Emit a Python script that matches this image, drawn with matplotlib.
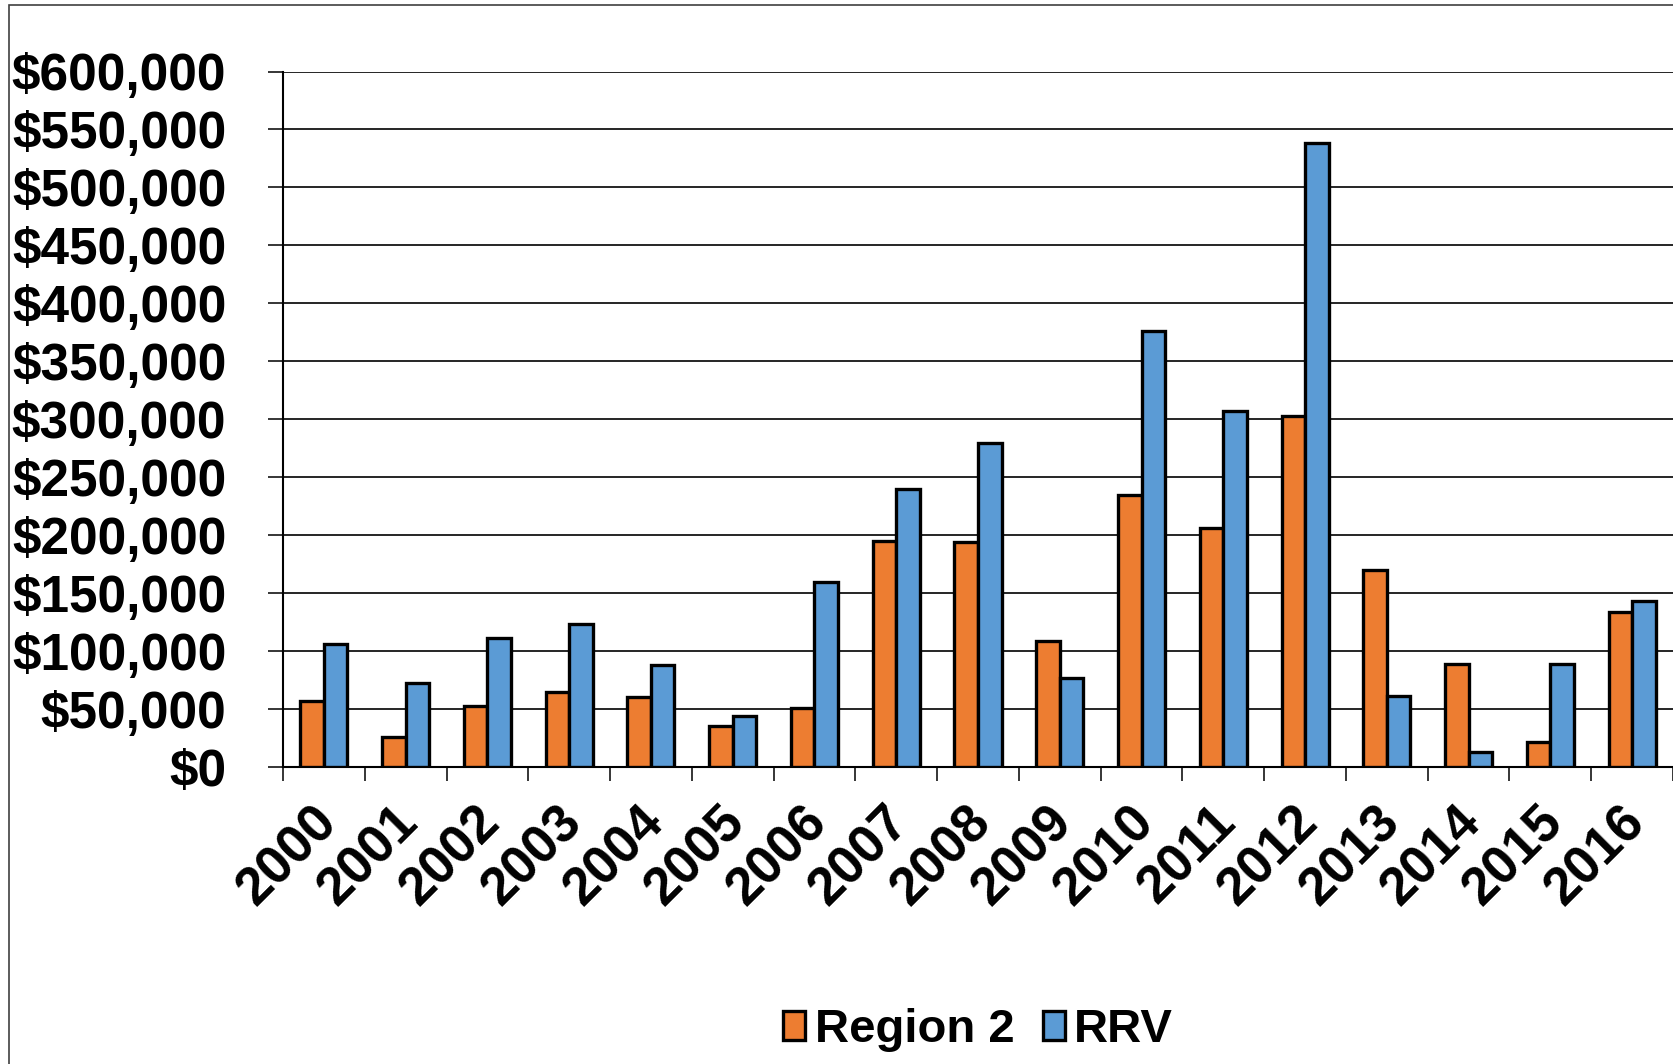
import matplotlib
matplotlib.use("Agg")
import matplotlib.pyplot as plt
from matplotlib.patches import Patch, Rectangle
from matplotlib.ticker import FuncFormatter, FixedLocator
from matplotlib.transforms import ScaledTranslation
import numpy as np

years = ["2000", "2001", "2002", "2003", "2004", "2005", "2006", "2007", "2008",
         "2009", "2010", "2011", "2012", "2013", "2014", "2015", "2016"]
region2 = [56500, 25800, 52000, 64000, 59800, 34800, 50300, 195000, 193500,
           108000, 234000, 206000, 302500, 169500, 88500, 20800, 133600]
rrv = [106000, 72000, 110600, 123000, 87300, 44000, 159000, 240000, 279000,
       76500, 376000, 307000, 538000, 60800, 12600, 88500, 143000]
series_names = ["Region 2", "RRV"]
colors = ["#ED7D31", "#5B9BD5"]
y_ticks = list(range(0, 600001, 50000))

W, H = 1674, 1064
plt.rcParams['font.family'] = ['Liberation Sans', 'DejaVu Sans']
plt.rcParams['font.weight'] = 'bold'

fig = plt.figure(figsize=(W / 100, H / 100), dpi=100)
fig.patch.set_facecolor("white")

# chart-area border (extends beyond image bottom/right)
fig.patches.append(Rectangle((9 / W, -0.1), 1.2, 1 - 5 / H + 0.1, transform=fig.transFigure,
                             fill=False, edgecolor="#404040", linewidth=1.2, zorder=0))

left, right, bottom_px, top_px = 283, 1673, 766.5, 71.5
ax = fig.add_axes([left / W, (H - bottom_px) / H, (right - left) / W, (bottom_px - top_px) / H])

x = np.arange(len(years))
bw = 0.2875
ax.bar(x - bw / 2, region2, bw, color=colors[0], edgecolor="black", linewidth=2.4, zorder=3)
ax.bar(x + bw / 2, rrv, bw, color=colors[1], edgecolor="black", linewidth=2.4, zorder=3)

ax.set_xlim(-0.5, len(years) - 0.5)
ax.set_ylim(0, 600000)
ax.set_yticks(y_ticks)
ax.yaxis.set_major_formatter(FuncFormatter(lambda v, p: "${:,.0f}".format(v)))
ax.yaxis.grid(True, color="black", linewidth=1.2, zorder=1)
ax.set_axisbelow(True)

for s in ["top", "right"]:
    ax.spines[s].set_visible(False)
ax.spines["left"].set_linewidth(1.5)
ax.spines["bottom"].set_linewidth(1.5)

ax.tick_params(axis="y", length=10.8, width=1.1, pad=30, labelsize=37)
for lab in ax.get_yticklabels():
    lab.set_fontweight("bold")

ax.set_xticks(x)
ax.set_xticklabels(years, rotation=45, ha="right", rotation_mode="anchor",
                   fontsize=38, fontweight="bold")
ax.tick_params(axis="x", which="major", length=0, pad=22)
shift = ScaledTranslation(-13 / 100, 0, fig.dpi_scale_trans)
for lab in ax.get_xticklabels():
    lab.set_transform(lab.get_transform() + shift)
ax.xaxis.set_minor_locator(FixedLocator(np.arange(len(years) + 1) - 0.5))
ax.tick_params(axis="x", which="minor", length=10, width=1.1)

handles = [Patch(facecolor=c, edgecolor="black", linewidth=2.4) for c in colors]
fig.legend(handles, series_names, loc="center", bbox_to_anchor=(978 / W, 1 - 1030 / H),
           ncol=2, frameon=False, prop={"size": 34, "weight": "bold"},
           handlelength=0.47, handleheight=0.57, handletextpad=0.2, columnspacing=0.6,
           borderpad=0, borderaxespad=0)

fig.savefig("out.png", dpi=100, facecolor="white")
